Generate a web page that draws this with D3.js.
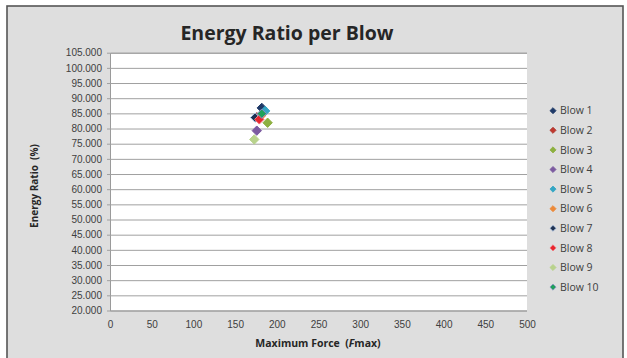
<!DOCTYPE html>
<html>
<head>
<meta charset="utf-8">
<script src="https://cdn.jsdelivr.net/npm/d3@7"></script>
<style>
  html, body { margin: 0; padding: 0; background: #fff; }
  svg { display: block; font-family: "Open Sans", "DejaVu Sans", sans-serif; }
</style>
</head>
<body>
<svg width="627" height="358"></svg>
<script>
// data
const series = ["Blow 1", "Blow 2", "Blow 3", "Blow 4", "Blow 5", "Blow 6", "Blow 7", "Blow 8", "Blow 9", "Blow 10"];
const fmax = [182, 176, 189, 176, 186, 181, 174, 179, 173, 182];
const energyRatio = [86.8, 83.7, 81.9, 79.3, 85.8, 84.2, 83.6, 83.0, 76.4, 84.9];
const fills = ["#1f3a68", "#c0392f", "#8db040", "#7b5aa0", "#35a6c4", "#ec8a3a", "#1f3252", "#e8262e", "#b8d28c", "#1fa25a"];
const strokes = ["#1f3a68", "#a8302a", "#8db040", "#7b5aa0", "#35a6c4", "#ec8a3a", "#a9c2e2", "#f07a80", "#b8d28c", "#8e8ec8"];
const xTicks = d3.range(0, 501, 50);
const yTicks = d3.range(20, 106, 5);

const svg = d3.select("svg");
const plot = { left: 110, right: 527, top: 52.7, bottom: 310.5 };

// chart frame
svg.append("rect")
  .attr("x", 7).attr("y", 6)
  .attr("width", 616).attr("height", 370)
  .attr("fill", "#dedede")
  .attr("stroke", "#555").attr("stroke-width", 1.6);

const x = d3.scaleLinear().domain([0, 500]).range([plot.left, plot.right]);
const y = d3.scaleLinear().domain([20, 105]).range([plot.bottom, plot.top]);

svg.append("rect")
  .attr("x", plot.left).attr("y", plot.top)
  .attr("width", plot.right - plot.left).attr("height", plot.bottom - plot.top)
  .attr("fill", "#fff");

// y axis with gridlines
const gY = svg.append("g")
  .attr("transform", `translate(${plot.left},0)`)
  .call(d3.axisLeft(y).tickValues(yTicks).tickFormat(d3.format(".3f"))
    .tickSize(-(plot.right - plot.left)).tickPadding(8));
gY.select(".domain").attr("stroke", "#9a9a9a");
gY.selectAll(".tick line").attr("stroke", "#a0a0a0").attr("x1", -3);
gY.selectAll(".tick text").attr("fill", "#404040").style("font-size", "10px");

// x axis, labels only
const gX = svg.append("g")
  .attr("transform", `translate(0,${plot.bottom})`)
  .call(d3.axisBottom(x).tickValues(xTicks).tickSize(0).tickPadding(10));
gX.select(".domain").remove();
gX.selectAll(".tick text").attr("fill", "#404040").style("font-size", "10px");

// markers
const diamond = d3.symbol().type(d3.symbolDiamond2).size(56);
svg.append("g").selectAll("path")
  .data(series)
  .join("path")
  .attr("d", diamond)
  .attr("transform", (d, i) => `translate(${x(fmax[i])},${y(energyRatio[i])})`)
  .attr("fill", (d, i) => fills[i])
  .attr("stroke", (d, i) => strokes[i])
  .attr("stroke-width", 1);

// titles
svg.append("text")
  .attr("x", 287).attr("y", 40)
  .attr("text-anchor", "middle")
  .attr("fill", "#262626")
  .style("font-size", "19.5px").style("font-weight", "bold")
  .text("Energy Ratio per Blow");

const xt = svg.append("text")
  .attr("x", 318).attr("y", 346.5)
  .attr("text-anchor", "middle")
  .attr("fill", "#262626")
  .style("font-size", "10.5px").style("font-weight", "bold")
  .attr("xml:space", "preserve");
xt.append("tspan").text("Maximum Force  (");
xt.append("tspan").style("font-style", "italic").text("F");
xt.append("tspan").text("max)");

svg.append("text")
  .attr("transform", "translate(38,186) rotate(-90)")
  .attr("text-anchor", "middle")
  .attr("fill", "#262626")
  .style("font-size", "10px").style("font-weight", "bold")
  .attr("xml:space", "preserve")
  .text("Energy Ratio  (%)");

// legend
const legend = svg.append("g").selectAll("g")
  .data(series)
  .join("g")
  .attr("transform", (d, i) => `translate(553,${110.7 + i * 19.6})`);
legend.append("path")
  .attr("d", d3.symbol().type(d3.symbolDiamond2).size(24))
  .attr("fill", (d, i) => fills[i])
  .attr("stroke", (d, i) => strokes[i])
  .attr("stroke-width", 0.8);
legend.append("text")
  .attr("x", 7).attr("dy", "0.35em")
  .attr("fill", "#404040")
  .style("font-size", "10.5px")
  .text(d => d);
</script>
</body>
</html>
